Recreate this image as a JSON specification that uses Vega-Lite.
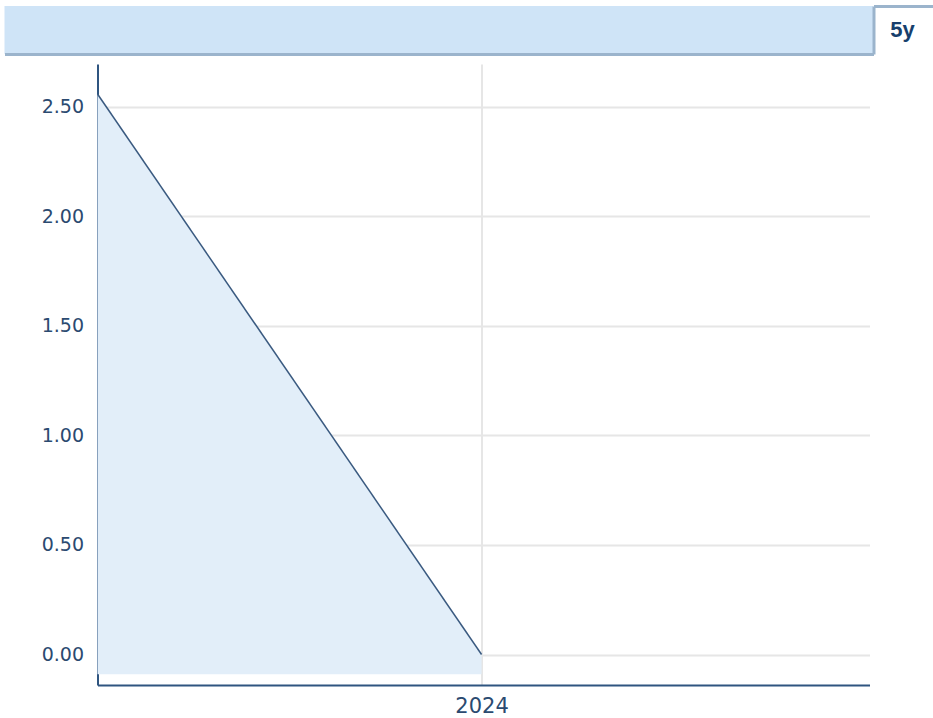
{
  "$schema": "https://vega.github.io/schema/vega-lite/v6.json",
  "padding": {"left": 3.5, "top": 6, "right": 0, "bottom": 0},
  "background": "white",
  "spacing": 9,
  "config": {"view": {"stroke": null}, "font": "DejaVu Sans"},
  "datasets": {
    "series": [
      {"year": 2023, "value": 2.558},
      {"year": 2024, "value": 0}
    ],
    "button": [{"label": "5y"}]
  },
  "vconcat": [
    {
      "spacing": 0,
      "hconcat": [
        {
          "width": 869,
          "height": 48,
          "view": {"fill": "#cfe4f7", "stroke": null},
          "data": {"name": "button"},
          "mark": {"type": "rule", "strokeOpacity": 0},
          "encoding": {
            "x": {
              "datum": 0,
              "type": "quantitative",
              "scale": {"domain": [0, 1]},
              "axis": {"labels": false, "ticks": false, "grid": false, "title": null, "domainColor": "#9bb4cc", "domainWidth": 3, "minExtent": 0}
            }
          }
        },
        {
          "width": 60,
          "height": 48,
          "view": {"fill": "white", "stroke": null},
          "data": {"name": "button"},
          "mark": {"type": "text", "font": "Liberation Sans", "fontWeight": "bold", "fontSize": 22, "color": "#173f6d", "align": "center", "baseline": "middle", "dx": -1},
          "encoding": {
            "text": {"field": "label"},
            "x": {
              "datum": 0.5,
              "type": "quantitative",
              "scale": {"domain": [0, 1]},
              "axis": {"orient": "top", "labels": false, "ticks": false, "grid": false, "title": null, "domainColor": "#9bb4cc", "domainWidth": 3, "minExtent": 0}
            },
            "y": {
              "datum": 0.5,
              "type": "quantitative",
              "scale": {"domain": [0, 1]},
              "axis": {"orient": "left", "labels": false, "ticks": false, "grid": false, "title": null, "domainColor": "#9bb4cc", "domainWidth": 3, "minExtent": 0}
            }
          }
        }
      ]
    },
    {
      "spacing": 0,
      "bounds": "flush",
      "hconcat": [
        {
          "width": 93,
          "height": 621,
          "data": {"name": "button"},
          "mark": {"type": "rule", "strokeOpacity": 0},
          "encoding": {}
        },
        {
          "width": 772,
          "height": 621,
          "data": {"name": "series"},
          "encoding": {
            "x": {
              "field": "year",
              "type": "quantitative",
              "scale": {"domain": [2023, 2025.01], "nice": false, "zero": false},
              "axis": {
                "values": [2024],
                "format": "d",
                "ticks": false,
                "grid": true,
                "gridColor": "#e6e6e6",
                "gridWidth": 2,
                "domainColor": "#2f5580",
                "domainWidth": 2,
                "labelFontSize": 21,
                "labelColor": "#2b4a70",
                "labelPadding": 10,
                "labelFlush": false,
                "title": null
              }
            }
          },
          "layer": [
            {
              "mark": {"type": "area", "color": "#e2eef9"},
              "encoding": {
                "y": {
                  "field": "value",
                  "type": "quantitative",
                  "scale": {"domain": [-0.139, 2.695], "nice": false, "zero": false},
                  "axis": {
                    "values": [0, 0.5, 1, 1.5, 2, 2.5],
                    "format": ".2f",
                    "ticks": false,
                    "grid": true,
                    "gridColor": "#e6e6e6",
                    "gridWidth": 2,
                    "domainColor": "#2f5580",
                    "domainWidth": 2,
                    "labelFontSize": 19,
                    "labelColor": "#2b4a70",
                    "labelPadding": 14,
                    "labelFlush": false,
                    "title": null
                  }
                },
                "y2": {"datum": -0.09}
              }
            },
            {
              "mark": {"type": "line", "color": "#3a5a80", "strokeWidth": 1.5},
              "encoding": {
                "y": {"field": "value", "type": "quantitative"}
              }
            }
          ]
        }
      ]
    }
  ]
}
